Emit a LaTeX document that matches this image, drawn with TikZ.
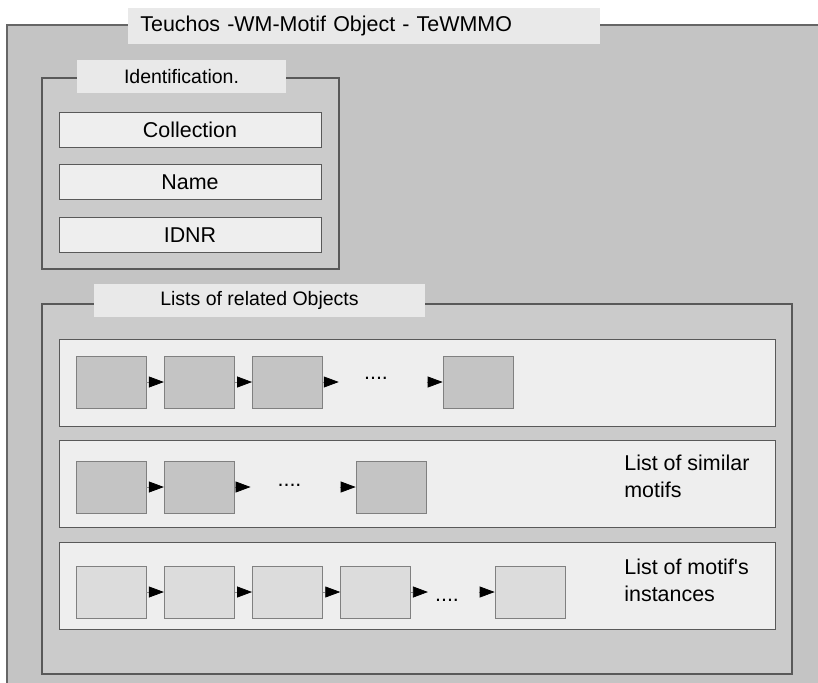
\documentclass[tikz,border=0pt]{standalone}
\usepackage{fontspec}
\setmainfont{Liberation Sans}
\usetikzlibrary{arrows.meta,positioning}
\definecolor{frame}{RGB}{196,196,196}
\definecolor{inner}{RGB}{203,203,203}
\definecolor{panel}{RGB}{238,238,238}
\definecolor{tagfill}{RGB}{233,233,233}
\definecolor{item}{RGB}{196,196,196}
\definecolor{itemlight}{RGB}{220,220,220}

\begin{document}
\begin{tikzpicture}[
    group/.style={draw=black!65, fill=inner, line width=0.6pt, inner sep=0pt},
    tag/.style={fill=tagfill, inner sep=0pt, minimum height=0.66cm, font=\fontsize{11.1}{13}\selectfont},
    field/.style={draw=black!65, fill=panel, minimum width=5.24cm, minimum height=0.7cm, inner sep=0pt, font=\fontsize{12.2}{14}\selectfont},
    row/.style={draw=black!65, fill=panel, minimum width=14.32cm, minimum height=1.74cm, inner sep=0pt},
    elem/.style={draw=black!50, fill=item, minimum width=1.4cm, minimum height=1.04cm, inner sep=0pt},
    link/.style={-{Triangle[length=0.3cm, width=0.22cm, color=black]}, black!45},
    dots/.style={inner sep=0pt, font=\fontsize{12.2}{14}\selectfont},
    note/.style={anchor=north west, align=left, inner sep=0pt, font=\fontsize{12.2}{15.3}\selectfont},
    node distance=0.35cm
]
    \useasboundingbox (0,0) rectangle (16.36,-13.64);
    \clip (0,0) rectangle (16.36,-13.64);

    % outer object
    \filldraw[fill=frame, draw=black!60, line width=0.8pt] (0.14,-0.5) rectangle (16.8,-14.2);
    \node[tag, font=\fontsize{12.2}{14}\selectfont, anchor=west, minimum height=0.72cm, text width=8.96cm, inner xsep=0.24cm, align=left] (title) at (2.56,-0.52) {Teuchos -WM-Motif Object - TeWMMO};

    % identification
    \node[group, minimum width=5.94cm, minimum height=3.82cm] (ident) at (3.81,-3.47) {};
    \node[tag, minimum width=4.18cm] (identtag) at (3.63,-1.53) {Identification.};
    \node[field] (coll) at (3.8,-2.59) {Collection};
    \node[field, below=0.34cm of coll] (name) {Name};
    \node[field, below=0.34cm of name] (idnr) {IDNR};

    % lists of related objects
    \node[group, minimum width=15cm, minimum height=7.4cm] (lists) at (8.34,-9.78) {};
    \node[tag, minimum width=6.62cm] (liststag) at (5.19,-6.01) {Lists of related Objects};
    \node[row] (rowa) at (8.34,-7.65) {};
    \node[row, below=0.28cm of rowa] (rowb) {};
    \node[row, below=0.28cm of rowb] (rowc) {};

    % first list
    \node[elem] (a1) at (2.22,-7.64) {};
    \node[elem, right=of a1] (a2) {};
    \node[elem, right=of a2] (a3) {};
    \node[elem] (a4) at (9.56,-7.64) {};
    \coordinate (a3out) at ([xshift=0.32cm]a3.east);
    \coordinate (a4in) at ([xshift=-0.32cm]a4.west);
    \node[dots] (adots) at (7.52,-7.56) {....};
    \draw[link] (a1) -- (a2);
    \draw[link] (a2) -- (a3);
    \draw[link] (a3) -- (a3out);
    \draw[link] (a4in) -- (a4);

    % similar motifs
    \node[elem] (b1) at (2.22,-9.74) {};
    \node[elem, right=of b1] (b2) {};
    \node[elem] (b3) at (7.82,-9.74) {};
    \coordinate (b2out) at ([xshift=0.32cm]b2.east);
    \coordinate (b3in) at ([xshift=-0.32cm]b3.west);
    \node[dots] (bdots) at (5.79,-9.7) {....};
    \draw[link] (b1) -- (b2);
    \draw[link] (b2) -- (b2out);
    \draw[link] (b3in) -- (b3);
    \node[note] (bnote) at (12.48,-9.1) {List of similar\\motifs};

    % motif instances
    \node[elem, fill=itemlight] (c1) at (2.22,-11.84) {};
    \node[elem, fill=itemlight, right=of c1] (c2) {};
    \node[elem, fill=itemlight, right=of c2] (c3) {};
    \node[elem, fill=itemlight, right=of c3] (c4) {};
    \node[elem, fill=itemlight] (c5) at (10.6,-11.84) {};
    \coordinate (c4out) at ([xshift=0.34cm]c4.east);
    \coordinate (c5in) at ([xshift=-0.32cm]c5.west);
    \node[dots] (cdots) at (8.94,-12.0) {....};
    \draw[link] (c1) -- (c2);
    \draw[link] (c2) -- (c3);
    \draw[link] (c3) -- (c4);
    \draw[link] (c4) -- (c4out);
    \draw[link] (c5in) -- (c5);
    \node[note] (cnote) at (12.48,-11.18) {List of motif\textquotesingle s\\instances};
\end{tikzpicture}
\end{document}
